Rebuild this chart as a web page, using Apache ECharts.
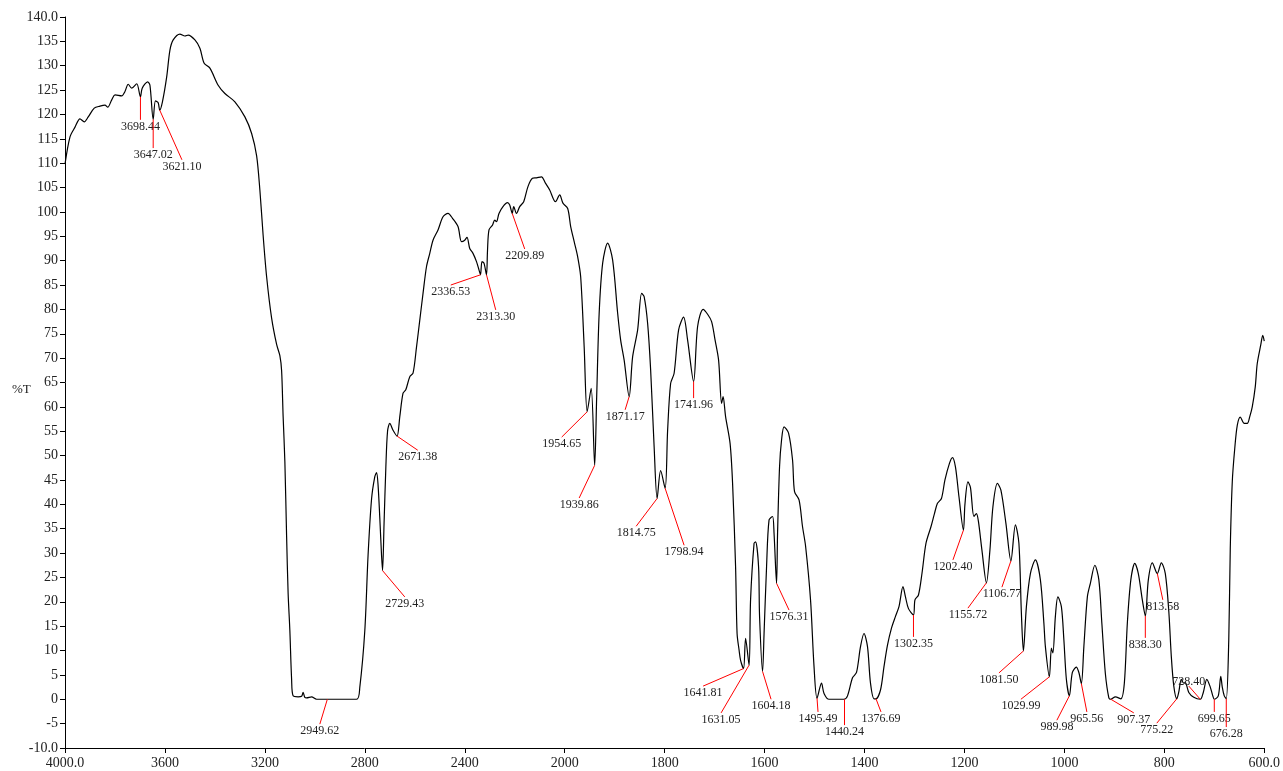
<!DOCTYPE html>
<html>
<head>
<meta charset="utf-8">
<script src="https://cdn.jsdelivr.net/npm/echarts@6/dist/echarts.min.js"></script>
<style>
    html, body { margin: 0; background: #fff; }
    #chart { width: 1283px; height: 771px; }
</style>
</head>
<body>
<div id="chart"></div>
<script>
// spectrum, wavenumber (cm-1) and %T
var wavenumber = [
    4000, 3980, 3960, 3940, 3923, 3907, 3883, 3860, 3840, 3829, 3813, 3800, 3773, 3760, 3747, 3733, 3713, 3698, 3691, 3669,
    3660, 3647, 3638, 3627, 3621, 3610, 3593, 3580, 3567, 3540, 3520, 3507, 3480, 3460, 3443, 3420, 3387, 3360, 3320, 3280,
    3253, 3233, 3220, 3207, 3193, 3173, 3153, 3140, 3133, 3127, 3120, 3113, 3107, 3100, 3093, 3087, 3067, 3053, 3047, 3040,
    3033, 3013, 2993, 2833, 2820, 2800, 2787, 2773, 2760, 2753, 2747, 2740, 2733, 2729, 2723, 2716, 2709, 2700, 2687, 2671,
    2660, 2647, 2636, 2620, 2607, 2593, 2580, 2567, 2553, 2540, 2527, 2507, 2487, 2467, 2449, 2427, 2413, 2400, 2391, 2380,
    2367, 2353, 2343, 2337, 2331, 2323, 2313, 2309, 2303, 2289, 2280, 2273, 2263, 2247, 2229, 2220, 2210, 2204, 2193, 2180,
    2164, 2147, 2129, 2113, 2093, 2077, 2060, 2037, 2020, 2007, 1994, 1988, 1981, 1974, 1968, 1961, 1955, 1947, 1940, 1936,
    1931, 1924, 1914, 1904, 1894, 1888, 1881, 1871, 1864, 1854, 1846, 1841, 1834, 1828, 1821, 1815, 1808, 1799, 1794, 1788,
    1781, 1772, 1762, 1754, 1742, 1734, 1723, 1714, 1706, 1699, 1692, 1686, 1683, 1678, 1669, 1664, 1658, 1655, 1651, 1648,
    1642, 1638, 1631, 1628, 1621, 1618, 1612, 1610, 1604, 1601, 1596, 1591, 1584, 1581, 1576, 1574, 1570, 1566, 1561, 1552,
    1544, 1540, 1531, 1524, 1518, 1508, 1501, 1495, 1486, 1481, 1471, 1441, 1434, 1424, 1416, 1408, 1401, 1394, 1388, 1381,
    1377, 1368, 1361, 1354, 1346, 1338, 1331, 1323, 1318, 1312, 1302, 1299, 1292, 1285, 1277, 1267, 1260, 1254, 1246, 1239,
    1230, 1224, 1218, 1211, 1202, 1199, 1193, 1188, 1181, 1176, 1172, 1165, 1156, 1149, 1143, 1134, 1127, 1117, 1107, 1098,
    1091, 1086, 1082, 1076, 1068, 1058, 1048, 1041, 1038, 1030, 1026, 1023, 1018, 1013, 1006, 1001, 996, 990, 984, 976,
    971, 966, 961, 954, 948, 939, 931, 925, 918, 911, 907, 898, 887, 880, 874, 867, 859, 852, 844, 838,
    832, 824, 814, 806, 798, 791, 786, 781, 775, 771, 766, 761, 758, 751, 741, 728, 722, 715, 708, 703,
    700, 692, 687, 684, 680, 676, 671, 668, 664, 659, 654, 648, 640, 634, 629, 624, 618, 614, 607, 603,
    600
];
var transmittance = [
    109.8, 115.4, 117.4, 119.1, 118.5, 119.5, 121.3, 121.7, 121.9, 121.5, 123.0, 124.0, 123.8, 124.7, 126.2, 125.4, 126.3, 123.6, 125.4, 126.7,
    126.0, 119.0, 122.8, 122.4, 120.9, 122.6, 127.7, 133.2, 135.3, 136.5, 136.1, 136.3, 135.3, 133.6, 130.5, 129.5, 126.0, 124.3, 122.6, 119.5,
    116.1, 111.5, 104.5, 95.2, 86.7, 78.2, 72.8, 70.5, 67.4, 58.1, 48.8, 33.4, 21.8, 14.1, 4.1, 0.7, 0.5, 0.6, 1.4, 0.4,
    0.3, 0.5, 0.0, 0.0, 2.5, 14.1, 29.5, 41.1, 45.7, 46.5, 44.0, 37.2, 29.5, 26.4, 36.0, 47.3, 55.0, 56.6, 55.2, 54.0,
    58.0, 62.8, 63.5, 66.2, 66.9, 72.3, 77.8, 83.3, 88.8, 91.5, 94.2, 96.3, 99.0, 99.7, 98.7, 97.0, 93.9, 94.2, 94.8, 92.5,
    91.5, 89.8, 88.1, 87.1, 89.8, 89.5, 87.1, 92.0, 96.3, 97.3, 98.3, 98.0, 99.7, 101.1, 101.9, 101.4, 99.7, 101.1, 99.7, 101.1,
    102.1, 105.2, 106.9, 107.0, 107.2, 105.9, 104.5, 102.1, 103.5, 101.8, 100.7, 97.0, 93.9, 90.8, 86.7, 72.3, 59.0, 63.8, 48.0, 62.0,
    79.2, 89.5, 93.6, 90.1, 79.2, 73.7, 69.6, 62.1, 70.3, 75.8, 83.3, 82.6, 77.1, 67.6, 51.8, 41.2, 46.9, 43.3, 55.2, 64.8,
    66.9, 75.8, 78.4, 73.7, 65.2, 76.5, 80.0, 79.0, 77.5, 73.7, 69.6, 60.7, 62.1, 58.0, 52.5, 44.3, 27.2, 13.5, 10.1, 8.0,
    6.3, 12.5, 7.0, 20.4, 32.0, 32.3, 27.2, 17.0, 5.7, 13.5, 27.2, 36.8, 37.5, 34.0, 23.8, 34.0, 47.7, 53.2, 55.9, 54.6,
    49.1, 42.6, 40.9, 35.4, 31.5, 20.4, 6.7, 0.2, 3.3, 1.2, 0.0, 0.0, 0.7, 4.4, 5.5, 10.8, 13.5, 10.8, 3.3, 0.1,
    0.1, 1.9, 6.7, 11.1, 14.6, 17.0, 19.0, 23.1, 21.0, 18.6, 17.3, 20.4, 21.4, 25.8, 32.0, 35.4, 38.1, 40.2, 41.2, 45.0,
    48.4, 49.6, 47.7, 41.6, 34.7, 40.0, 44.6, 43.5, 37.5, 38.1, 36.5, 30.6, 23.9, 30.6, 39.5, 44.3, 42.9, 36.1, 28.4, 35.8,
    32.0, 17.6, 9.9, 19.0, 25.8, 28.6, 24.5, 15.6, 10.8, 4.6, 10.5, 9.5, 17.0, 21.0, 19.0, 12.2, 4.1, 0.7, 5.5, 6.6,
    5.5, 3.2, 10.8, 21.0, 23.8, 27.5, 24.5, 15.6, 5.3, 0.3, 0.0, 0.5, 0.1, 3.3, 15.6, 24.5, 27.9, 25.8, 20.4, 17.1,
    24.5, 28.0, 25.8, 28.0, 25.8, 18.0, 8.8, 2.7, 0.1, 1.5, 4.1, 3.3, 3.4, 1.4, 0.4, 0.0, 1.4, 4.1, 2.5, 0.7,
    0.0, 0.7, 4.7, 2.5, 0.7, 0.1, 12.2, 31.0, 44.6, 51.5, 56.2, 57.9, 56.6, 56.6, 58.0, 60.0, 64.1, 68.9, 72.7, 74.7,
    73.5
];

// peak picks: where the red line starts on the curve, where it ends (label)
var peakText = ["3698.44", "3647.02", "3621.10", "2949.62", "2729.43", "2671.38", "2336.53", "2313.30", "2209.89", "1954.65",
    "1939.86", "1871.17", "1814.75", "1798.94", "1741.96", "1641.81", "1631.05", "1604.18", "1576.31", "1495.49",
    "1440.24", "1376.69", "1302.35", "1202.40", "1155.72", "1106.77", "1081.50", "1029.99", "989.98", "965.56",
    "907.37", "775.22", "838.30", "813.58", "728.40", "699.65", "676.28"];
var peakWn = [3698, 3647, 3621, 2950, 2729, 2671, 2337, 2313, 2210, 1955,
    1940, 1871, 1815, 1799, 1742, 1642, 1631, 1604, 1576, 1495,
    1440, 1377, 1302, 1202, 1156, 1107, 1082, 1030, 990, 966,
    907, 775, 838, 814, 728, 700, 676];
var peakT = [123.6, 119.0, 120.9, 0.0, 26.4, 54.0, 87.1, 87.1, 99.7, 59.0,
    48.0, 62.1, 41.2, 43.3, 65.2, 6.3, 7.0, 5.7, 23.8, 0.2,
    0.0, 0.1, 17.3, 34.7, 23.9, 28.4, 9.9, 4.6, 0.7, 3.2,
    0.0, 0.1, 17.1, 25.8, 0.0, 0.0, 0.1];
var tipWn = [3698, 3647, 3532, 2980, 2640, 2588, 2456, 2276, 2160, 2012,
    1971, 1879, 1857, 1761, 1742, 1723, 1687, 1587, 1551, 1493,
    1440, 1367, 1302, 1223, 1193, 1125, 1131, 1087, 1015, 955,
    861, 815, 838, 803, 751, 700, 676];
var tipT = [118.9, 113.1, 110.7, -5.1, 21.0, 51.1, 85.0, 79.9, 92.4, 53.8,
    41.3, 59.4, 35.5, 31.6, 61.8, 2.7, -2.8, 0.0, 18.3, -2.6,
    -5.3, -2.6, 12.8, 28.6, 18.7, 23.0, 5.4, 0.0, -4.3, -2.6,
    -2.8, -4.9, 12.6, 20.4, 2.7, -2.6, -5.7];

// x axis is compressed by half above 2000 cm-1
function 压缩(w) {
    return w > 2000 ? 2000 + (w - 2000) / 2 : w;
}
function 还原(t) {
    return t > 2000 ? 2000 + (t - 2000) * 2 : t;
}

var 字体 = '"Liberation Serif", "DejaVu Serif", serif';

var 曲线 = [];
for (var i = 0; i < wavenumber.length; i++) {
    曲线.push([压缩(wavenumber[i]), transmittance[i]]);
}
var 标注 = [];
for (var j = 0; j < peakText.length; j++) {
    标注.push([压缩(peakWn[j]), peakT[j], 压缩(tipWn[j]), tipT[j]]);
}

var myChart = echarts.init(document.getElementById('chart'));
var option = {
    animation: false,
    backgroundColor: '#fff',
    grid: { left: 65, right: 17, top: 17, bottom: 23 },
    // y 轴标题单独放
    graphic: [
        {
            type: 'text',
            left: 12,
            top: 383,
            style: { text: '%T', fill: '#222', font: '13px ' + 字体 }
        }
    ],
    xAxis: {
        type: 'value',
        min: 600,
        max: 3000,
        interval: 200,
        inverse: true,
        splitLine: { show: false },
        axisLine: { onZero: false, lineStyle: { color: '#000', width: 1 } },
        axisTick: { length: 5, lineStyle: { color: '#000' } },
        axisLabel: {
            margin: 8,
            color: '#222',
            fontFamily: 字体,
            fontSize: 14,
            formatter: function (v) {
                var w = 还原(v);
                return (w === 4000 || w === 600) ? w.toFixed(1) : String(w);
            }
        }
    },
    yAxis: {
        type: 'value',
        min: -10,
        max: 140,
        interval: 5,
        splitLine: { show: false },
        axisLine: { show: true, lineStyle: { color: '#000', width: 1 } },
        axisTick: { show: true, length: 5, lineStyle: { color: '#000' } },
        axisLabel: {
            margin: 7,
            color: '#222',
            fontFamily: 字体,
            fontSize: 14,
            formatter: function (v) {
                return (v === 140 || v === -10) ? v.toFixed(1) : String(v);
            }
        }
    },
    series: [
        {
            type: 'line',
            data: 曲线,
            showSymbol: false,
            smooth: 0.3,
            lineStyle: { color: '#000', width: 1.2 },
            z: 3
        },
        {
            type: 'custom',
            data: 标注,
            encode: { x: [0, 2], y: [1, 3] },
            z: 4,
            renderItem: function (params, api) {
                var p = api.coord([api.value(0), api.value(1)]);
                var q = api.coord([api.value(2), api.value(3)]);
                var 上方 = api.value(3) > api.value(1);
                return {
                    type: 'group',
                    children: [
                        {
                            type: 'line',
                            shape: { x1: p[0], y1: p[1], x2: q[0], y2: q[1] },
                            style: { stroke: '#ff0000', lineWidth: 1 }
                        },
                        {
                            type: 'text',
                            x: q[0],
                            y: 上方 ? q[1] - 4 : q[1] + 1,
                            style: {
                                text: peakText[params.dataIndex],
                                fill: '#222',
                                font: '12px ' + 字体,
                                align: 'center',
                                verticalAlign: 上方 ? 'middle' : 'top'
                            }
                        }
                    ]
                };
            }
        }
    ]
};
option && myChart.setOption(option);
</script>
</body>
</html>
